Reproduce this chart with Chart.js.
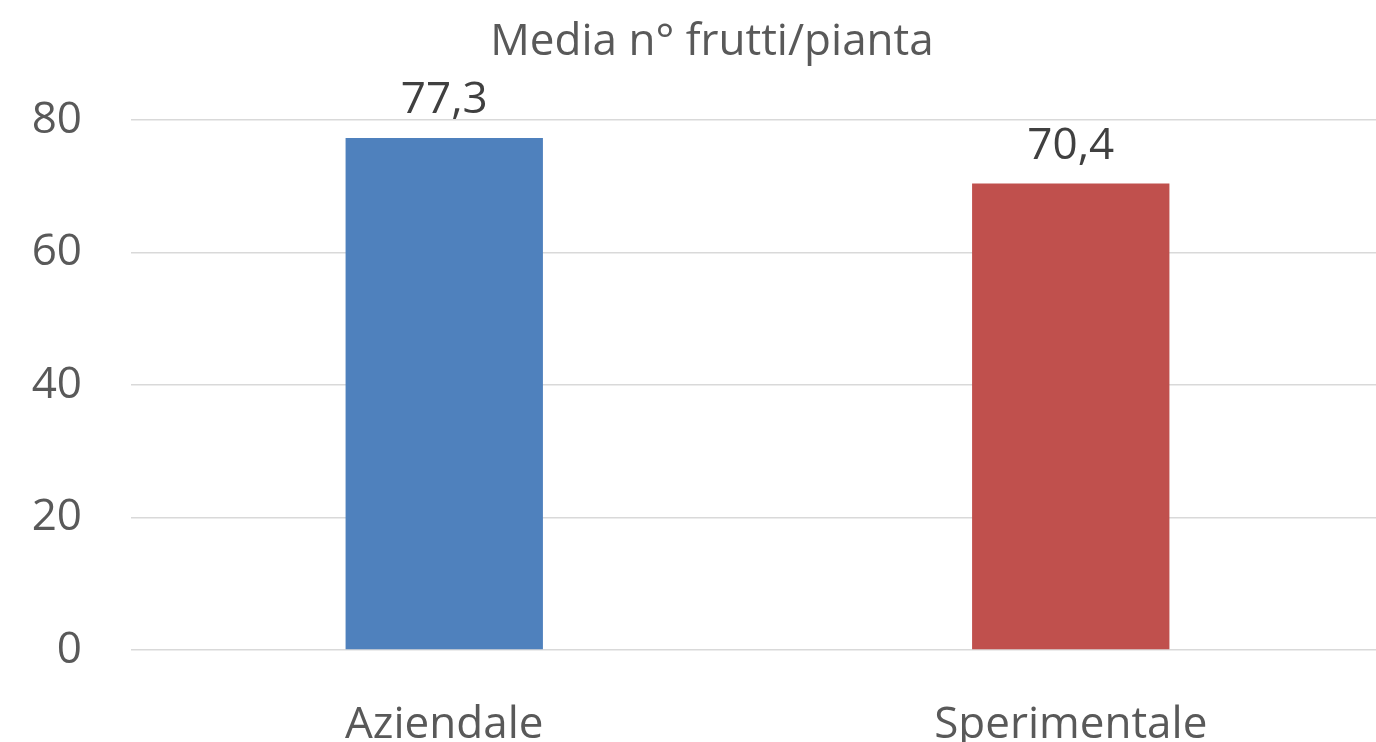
<!DOCTYPE html>
<html>
<head>
<meta charset="utf-8">
<script src="https://cdn.jsdelivr.net/npm/chart.js@4"></script>
<style>
  html, body { margin: 0; padding: 0; background: #fff; overflow: hidden; }
  #wrap { width: 1376px; height: 742px; overflow: hidden; }
</style>
</head>
<body>
<div id="wrap"><canvas id="Chart1" width="1384" height="742"></canvas></div>
<script>
var categories = ["Aziendale", "Sperimentale"];
var values = [77.3, 70.4];
var barColors = ["#4f81bd", "#c0504d"];
var yTicks = [0, 20, 40, 60, 80];
var chartTitle = "Media n° frutti/pianta";

var FONT = "'Open Sans'";
var FSIZE = 44;

function fmt(v) {
  return v.toFixed(1).replace(".", ",");
}

// labels above bars + title
var valueLabels = {
  id: 'valueLabels',
  afterDatasetsDraw: function (chart) {
    var ctx = chart.ctx;
    var meta = chart.getDatasetMeta(0);
    ctx.save();
    ctx.font = FSIZE + "px " + FONT;
    ctx.fillStyle = "#404040";
    ctx.textAlign = "center";
    ctx.textBaseline = "alphabetic";
    meta.data.forEach(function (bar, i) {
      ctx.fillText(fmt(values[i]), bar.x, bar.y - 25);
    });
    ctx.fillStyle = "#595959";
    ctx.textBaseline = "middle";
    ctx.fillText(chartTitle, 712, 42);
    ctx.restore();
  }
};

var ctx1 = document.getElementById("Chart1").getContext('2d');

var Chart1 = new Chart(ctx1, {
  type: 'bar',
  data: {
    labels: categories,
    datasets: [{
      data: values,
      backgroundColor: barColors,
      barPercentage: 0.63,
      categoryPercentage: 0.5
    }]
  },
  options: {
    responsive: false,
    animation: false,
    layout: { padding: { top: 120, right: 0, bottom: 0, left: 0 } },
    plugins: {
      legend: { display: false },
      tooltip: { enabled: false },
      title: { display: false }
    },
    scales: {
      x: {
        grid: { display: false },
        border: { display: false },
        ticks: {
          color: "#595959",
          font: { family: FONT, size: FSIZE },
          padding: 41
        },
        afterFit: function (s) { s.height = 92; }
      },
      y: {
        min: 0,
        max: 80,
        afterBuildTicks: function (s) {
          s.ticks = yTicks.map(function (v) { return { value: v }; });
        },
        grid: { color: "#d9d9d9", lineWidth: 1.5, drawTicks: false },
        border: { display: false },
        ticks: {
          color: "#595959",
          font: { family: FONT, size: FSIZE },
          padding: 49
        },
        afterFit: function (s) { s.width = 131; }
      }
    }
  },
  plugins: [valueLabels]
});
</script>
</body>
</html>
